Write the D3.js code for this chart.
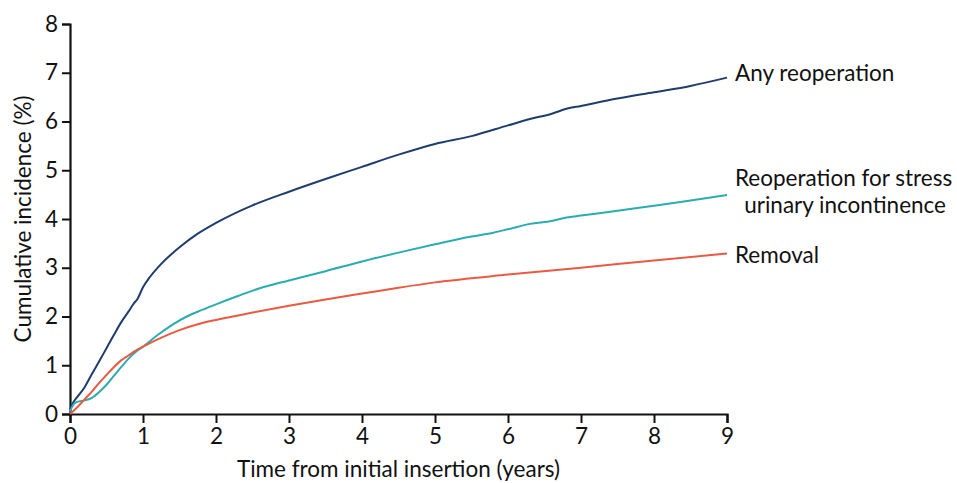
<!DOCTYPE html>
<html>
<head>
<meta charset="utf-8">
<script src="https://cdn.jsdelivr.net/npm/d3@7"></script>
<style>
  body { margin: 0; background: #fff; }
  svg text { font-family: Lato, "DejaVu Sans", sans-serif; fill: #111; }
</style>
</head>
<body>
<div id="chart"></div>
<script>
// time points (years) and cumulative incidence (%)
const anyTime = [0, 0.05, 0.1, 0.2, 0.3, 0.4, 0.5, 0.6, 0.7, 0.8, 0.88, 0.92, 1.0, 1.1, 1.25, 1.5, 1.75, 2, 2.5, 3, 3.5, 4, 4.5, 5, 5.5, 6, 6.3, 6.6, 6.8, 7, 7.5, 8, 8.5, 9];
const anyValue = [0.1, 0.25, 0.35, 0.55, 0.82, 1.08, 1.35, 1.62, 1.88, 2.1, 2.28, 2.35, 2.6, 2.82, 3.08, 3.42, 3.7, 3.92, 4.28, 4.56, 4.82, 5.07, 5.32, 5.54, 5.7, 5.92, 6.05, 6.16, 6.26, 6.32, 6.47, 6.6, 6.73, 6.9];

const suiTime = [0, 0.05, 0.1, 0.2, 0.3, 0.4, 0.5, 0.6, 0.7, 0.8, 0.9, 1.0, 1.2, 1.4, 1.6, 1.8, 2, 2.3, 2.6, 3, 3.5, 4, 4.5, 5, 5.5, 5.8, 6, 6.3, 6.6, 6.8, 7, 7.5, 8, 8.5, 9];
const suiValue = [0.05, 0.2, 0.25, 0.28, 0.33, 0.45, 0.6, 0.78, 0.96, 1.13, 1.27, 1.38, 1.62, 1.83, 2.0, 2.13, 2.25, 2.42, 2.58, 2.74, 2.93, 3.13, 3.31, 3.48, 3.64, 3.72, 3.79, 3.9, 3.96, 4.03, 4.07, 4.17, 4.27, 4.38, 4.49];

const remTime = [0, 0.1, 0.2, 0.3, 0.4, 0.5, 0.6, 0.7, 0.8, 0.9, 1.0, 1.2, 1.5, 1.75, 2, 2.5, 3, 3.5, 4, 4.5, 5, 6, 7, 8, 9];
const remValue = [0, 0.14, 0.3, 0.46, 0.64, 0.8, 0.96, 1.1, 1.2, 1.3, 1.38, 1.53, 1.72, 1.84, 1.93, 2.08, 2.22, 2.35, 2.47, 2.59, 2.7, 2.86, 3.0, 3.15, 3.29];

const xTicks = [0, 1, 2, 3, 4, 5, 6, 7, 8, 9];
const yTicks = [0, 1, 2, 3, 4, 5, 6, 7, 8];

const series = [
  { name: ["Any reoperation"], time: anyTime, value: anyValue, color: "#1e3d6f", labelY: 73 },
  { name: ["Reoperation for stress", "urinary incontinence"], time: suiTime, value: suiValue, color: "#2bacb1", labelY: 178 },
  { name: ["Removal"], time: remTime, value: remValue, color: "#ea5a42", labelY: 255 }
];

const width = 957, height = 483;
const margin = { top: 24, right: 230, bottom: 69, left: 70 };
const fontSize = "22.5px";

const svg = d3.select("#chart").append("svg")
  .attr("width", width)
  .attr("height", height);

const x = d3.scaleLinear().domain([0, 9]).range([margin.left, width - margin.right]);
const y = d3.scaleLinear().domain([0, 8]).range([height - margin.bottom, margin.top]);

// axes
let xAxis = svg.append("g")
  .attr("transform", "translate(0," + y(0) + ")")
  .call(d3.axisBottom(x).tickValues(xTicks).tickSize(9).tickPadding(5).tickFormat(d3.format("d")));
let yAxis = svg.append("g")
  .attr("transform", "translate(" + x(0) + ",0)")
  .call(d3.axisLeft(y).tickValues(yTicks).tickSize(8).tickPadding(4).tickFormat(d3.format("d")));

[xAxis, yAxis].forEach(a => {
  a.select(".domain").attr("stroke", "#111").attr("stroke-width", 2.2);
  a.selectAll(".tick line").attr("stroke", "#111").attr("stroke-width", 2);
  a.selectAll(".tick text").style("font-size", fontSize).attr("fill", "#111");
});

// curves
let line = d3.line()
  .x(d => x(d[0]))
  .y(d => y(d[1]))
  .curve(d3.curveMonotoneX);

series.forEach(s => {
  let pts = s.time.map((t, i) => [t, s.value[i]]);
  svg.append("path")
    .datum(pts)
    .attr("fill", "none")
    .attr("stroke", s.color)
    .attr("stroke-width", 2)
    .attr("d", line);

  // label next to the end of each curve
  let lab = svg.append("text")
    .attr("x", 735)
    .attr("y", s.labelY)
    .style("font-size", fontSize);
  s.name.forEach((n, i) => {
    lab.append("tspan")
      .attr("x", i == 0 ? 735 : 946)
      .attr("text-anchor", i == 0 ? "start" : "end")
      .attr("dy", i == 0 ? "0.35em" : "1.2em")
      .text(n);
  });
});

// axis titles
svg.append("text")
  .attr("x", x(4.5))
  .attr("y", 477)
  .attr("text-anchor", "middle")
  .style("font-size", fontSize)
  .text("Time from initial insertion (years)");

svg.append("text")
  .attr("transform", "translate(31," + y(4) + ") rotate(-90)")
  .attr("text-anchor", "middle")
  .style("font-size", fontSize)
  .text("Cumulative incidence (%)");
</script>
</body>
</html>
